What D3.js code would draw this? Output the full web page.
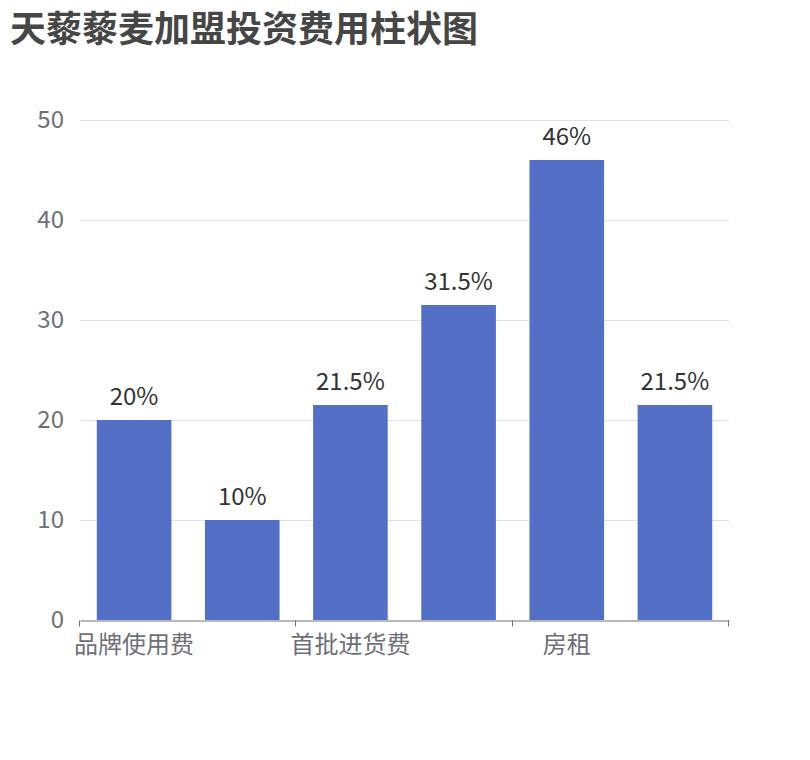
<!DOCTYPE html>
<html>
<head>
<meta charset="utf-8">
<script src="https://d3js.org/d3.v7.min.js"></script>
<style>
  body { margin: 0; background: #fff; }
  text { font-family: "Noto Sans CJK SC", "Noto Sans", sans-serif; }
</style>
</head>
<body>
<script>
// data
const title = "天藜藜麦加盟投资费用柱状图";
// the axis only prints every other name; the names of bars 2, 4 and 6 are not shown in the picture
const categories = ["品牌使用费", "", "首批进货费", "", "房租", ""];
const values = [20, 10, 21.5, 31.5, 46, 21.5];
const yTicks = [0, 10, 20, 30, 40, 50];
const shownIdx = [0, 2, 4];

const svg = d3.select("body").append("svg")
    .attr("width", 810)
    .attr("height", 760);

const margin = { top: 120, right: 81, bottom: 140, left: 80 };
const width = 810 - margin.left - margin.right;
const height = 760 - margin.top - margin.bottom;

// title
svg.append("text")
    .attr("x", 10)
    .attr("y", 42)
    .attr("font-size", 36)
    .attr("font-weight", "bold")
    .attr("fill", "#464646")
    .text(title);

const chart = svg.append("g").attr("transform", `translate(${margin.left},${margin.top})`);

// scales (band keyed by index, since some names are unknown)
const outer = 0.155;
const x = d3.scaleBand()
    .domain(d3.range(categories.length))
    .range([0, width])
    .paddingInner(0.31)
    .paddingOuter(outer);

const y = d3.scaleLinear()
    .domain([0, 50])
    .range([height, 0]);

// grid lines
chart.append("g")
    .selectAll("line")
    .data(yTicks.filter(d => d > 0))
    .join("line")
    .attr("x1", 0)
    .attr("x2", width)
    .attr("y1", d => y(d) + 0.5)
    .attr("y2", d => y(d) + 0.5)
    .attr("stroke", "#DCE2EE")
    .attr("stroke-width", 1.2);

// y axis labels
const yAxis = chart.append("g")
    .call(d3.axisLeft(y).tickValues(yTicks).tickSize(0).tickPadding(16));
yAxis.select(".domain").remove();
yAxis.selectAll("text")
    .attr("font-size", 24)
    .attr("fill", "#6E7079")
    .attr("dy", "0.33em");

// bars
chart.append("g")
    .selectAll("rect")
    .data(values)
    .join("rect")
    .attr("x", (d, i) => x(i))
    .attr("y", d => y(d))
    .attr("width", x.bandwidth())
    .attr("height", d => height - y(d))
    .attr("fill", "#5470C6");

// value labels
chart.append("g")
    .selectAll("text")
    .data(values)
    .join("text")
    .attr("x", (d, i) => x(i) + x.bandwidth() / 2)
    .attr("y", d => y(d) - 15)
    .attr("text-anchor", "middle")
    .attr("font-size", 24)
    .attr("fill", "#333")
    .text(d => d + "%");

// x axis
const xAxis = chart.append("g")
    .attr("transform", `translate(0,${height + 0.5})`)
    .call(d3.axisBottom(x).tickValues(shownIdx).tickFormat(i => categories[i]).tickSize(0).tickPadding(14));
xAxis.select(".domain")
    .attr("stroke", "#6E7079");
xAxis.selectAll("text")
    .attr("font-size", 24)
    .attr("fill", "#6E7079")
    .attr("dy", "0.78em");

// boundary ticks for the shown labels plus the end of the axis
const tickPos = shownIdx.map(i => x(i) - x.step() * outer).concat([width]);
xAxis.selectAll(".btick")
    .data(tickPos)
    .join("line")
    .attr("class", "btick")
    .attr("x1", d => Math.round(d) - 0.5)
    .attr("x2", d => Math.round(d) - 0.5)
    .attr("y1", 0)
    .attr("y2", 6)
    .attr("stroke", "#6E7079");
</script>
</body>
</html>
